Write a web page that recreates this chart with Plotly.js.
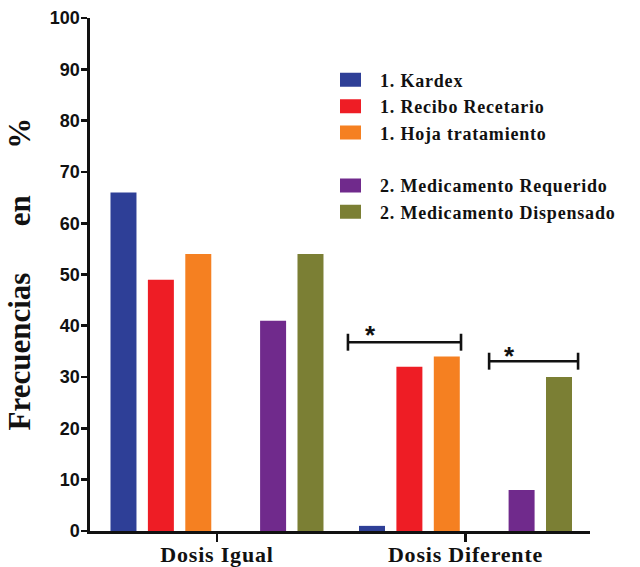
<!DOCTYPE html>
<html>
<head>
<meta charset="utf-8">
<script src="https://cdn.plot.ly/plotly-3.0.1.min.js"></script>
<style>
html,body{margin:0;padding:0;background:#fff;}
#chart{width:640px;height:567px;}
.legendtext{letter-spacing:0.8px;}
.xtick text{letter-spacing:0.8px;}
</style>
</head>
<body>
<div id="chart"></div>
<script>
// ---- data ----
var categories = ["Dosis Igual", "Dosis Diferente"];
var seriesNames = ["1. Kardex", "1. Recibo Recetario", "1. Hoja tratamiento", " ", "2. Medicamento Requerido", "2. Medicamento Dispensado"];
var kardex = [66, 1];
var reciboRecetario = [49, 32];
var hojaTratamiento = [54, 34];
var spacer = [0, 0];
var medicamentoRequerido = [41, 8];
var medicamentoDispensado = [54, 30];
var yTickVals = [0, 10, 20, 30, 40, 50, 60, 70, 80, 90, 100];

var seriesValues = [kardex, reciboRecetario, hojaTratamiento, spacer, medicamentoRequerido, medicamentoDispensado];
var colors = ["#2E3F97", "#EE1D25", "#F58021", "rgba(0,0,0,0)", "#702A8C", "#7B7F34"];

var traces = seriesValues.map(function (vals, i) {
  return {
    type: "bar",
    x: categories,
    y: vals,
    name: seriesNames[i],
    marker: { color: colors[i], line: { width: 0 } },
    hoverinfo: "skip"
  };
});

// significance brackets (layout decorations)
var brackets = [
  { x0: 0.527, x1: 0.982, y: 36.8, cap: 1.65, starX: 0.616, starY: 38.3 },
  { x0: 1.095, x1: 1.453, y: 33.1, cap: 1.65, starX: 1.179, starY: 34.2 }
];
var shapes = [];
var annotations = [];
brackets.forEach(function (b) {
  var ln = { color: "#111", width: 2.6 };
  shapes.push({ type: "line", xref: "x", yref: "y", x0: b.x0, x1: b.x1, y0: b.y, y1: b.y, line: ln });
  shapes.push({ type: "line", xref: "x", yref: "y", x0: b.x0, x1: b.x0, y0: b.y - b.cap, y1: b.y + b.cap, line: ln });
  shapes.push({ type: "line", xref: "x", yref: "y", x0: b.x1, x1: b.x1, y0: b.y - b.cap, y1: b.y + b.cap, line: ln });
  annotations.push({ x: b.starX, y: b.starY, xref: "x", yref: "y", text: "*", showarrow: false,
    font: { family: "Liberation Sans, Arial", size: 26, color: "#111", weight: "bold" }, yanchor: "middle" });
});

var sp = "\u00A0\u00A0\u00A0\u00A0\u00A0\u00A0";
annotations.push({
  xref: "paper", yref: "paper", x: 0, y: 0.5, xshift: -71, textangle: -90,
  text: "Frecuencias" + sp + "en" + sp + "%", showarrow: false,
  xanchor: "center", yanchor: "middle",
  font: { family: "Liberation Serif, Times New Roman", size: 31, color: "#111", weight: "bold" }
});

var layout = {
  width: 640, height: 567,
  margin: { l: 90, r: 50, t: 18, b: 36 },
  paper_bgcolor: "#fff", plot_bgcolor: "#fff",
  barmode: "group", bargap: 0.097, bargroupgap: 0.305,
  showlegend: true,
  legend: {
    x: 0.5, y: 0.915, xanchor: "left", yanchor: "top",
    bgcolor: "rgba(0,0,0,0)",
    font: { family: "Liberation Serif, Times New Roman", size: 18, color: "#111", weight: "bold" },
    traceorder: "normal"
  },
  xaxis: {
    type: "category",
    range: [-0.511, 1.501],
    showline: true, linecolor: "#111", linewidth: 2.6,
    ticks: "outside", ticklen: 8, tickwidth: 2.6, tickcolor: "#111",
    ticklabelstandoff: -6,
    showgrid: false, zeroline: false,
    tickfont: { family: "Liberation Serif, Times New Roman", size: 22, color: "#111", weight: "bold" }
  },
  yaxis: {
    range: [0, 100],
    tickvals: yTickVals,
    showline: true, linecolor: "#111", linewidth: 2.6,
    ticks: "outside", ticklen: 6, tickwidth: 2.6, tickcolor: "#111",
    ticklabelstandoff: -2,
    showgrid: false, zeroline: false,
    tickfont: { family: "Liberation Sans, Arial", size: 18, color: "#111", weight: "bold" }
  },
  shapes: shapes,
  annotations: annotations
};

Plotly.newPlot("chart", traces, layout, { displayModeBar: false, staticPlot: true }).then(function () {
  // widen the legend swatches to match the reference's rectangular keys
  document.querySelectorAll("#chart .legendpoints path").forEach(function (p) {
    p.setAttribute("d", "M1,7H-29V-7H1Z");
  });
});
</script>
</body>
</html>
